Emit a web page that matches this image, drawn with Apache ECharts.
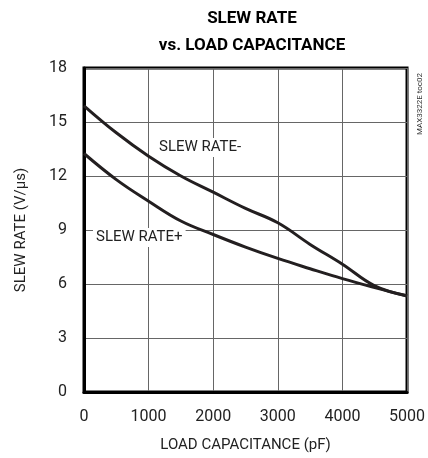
<!DOCTYPE html>
<html>
<head>
<meta charset="utf-8">
<script src="https://cdn.jsdelivr.net/npm/echarts@6/dist/echarts.min.js"></script>
<style>
  html, body { margin: 0; padding: 0; background: #fff; }
  #chart { width: 428px; height: 458px; }
</style>
</head>
<body>
<div id="chart"></div>
<script>
// load capacitance, pF
const loadCap = [0, 500, 1000, 1500, 2000, 2500, 3000, 3500, 4000, 4500, 5000]
// slew rate, V/us
const slewMinus = [15.9, 14.4, 13.1, 12.0, 11.1, 10.2, 9.4, 8.2, 7.1, 5.9, 5.35]
const slewPlus = [13.25, 11.8, 10.6, 9.5, 8.75, 8.05, 7.42, 6.85, 6.3, 5.8, 5.33]
const yTicks = [0, 3, 6, 9, 12, 15, 18]
const xTicks = [0, 1000, 2000, 3000, 4000, 5000]

const font = '"Roboto", "Liberation Sans", sans-serif'
const lineColor = '#231f20'

const chart = echarts.init(document.getElementById('chart'))

function pairs(ys) {
  return loadCap.map((x, i) => [x, ys[i]])
}

chart.setOption({
  backgroundColor: '#ffffff',
  animation: false,
  title: {
    text: 'SLEW RATE\nvs. LOAD CAPACITANCE',
    left: 247,
    textAlign: 'center',
    top: 0,
    textStyle: {
      fontFamily: font,
      fontWeight: 'bold',
      fontSize: 17,
      lineHeight: 27,
      color: '#000'
    }
  },
  grid: {
    left: 84,
    top: 68,
    width: 326,
    height: 325,
    show: true,
    borderColor: '#000',
    borderWidth: 3
  },
  xAxis: {
    type: 'value',
    min: xTicks[0],
    max: xTicks[xTicks.length - 1],
    interval: 1000,
    name: 'LOAD CAPACITANCE (pF)',
    nameLocation: 'middle',
    nameGap: 46,
    nameTextStyle: { fontFamily: font, fontSize: 15, color: '#222' },
    axisLine: { lineStyle: { color: '#000', width: 3 } },
    axisTick: { show: false },
    axisLabel: {
      fontFamily: font,
      fontSize: 16,
      color: '#222',
      margin: 17,
      formatter: v => String(v)
    },
    splitLine: { lineStyle: { color: '#666', width: 1 } }
  },
  yAxis: {
    type: 'value',
    min: yTicks[0],
    max: yTicks[yTicks.length - 1],
    interval: 3,
    name: 'SLEW RATE (V/\u00b5s)',
    nameLocation: 'middle',
    nameGap: 55,
    nameTextStyle: { fontFamily: font, fontSize: 15, color: '#222' },
    axisLine: { lineStyle: { color: '#000', width: 3 } },
    axisTick: { show: false },
    axisLabel: { fontFamily: font, fontSize: 16, color: '#222', margin: 17 },
    splitLine: { lineStyle: { color: '#666', width: 1 } }
  },
  graphic: [
    {
      type: 'text',
      left: 156,
      top: 138,
      z: 1,
      style: {
        text: 'SLEW RATE-',
        font: '15px ' + font,
        fill: '#222',
        backgroundColor: '#fff',
        padding: [2, 3]
      }
    },
    {
      type: 'text',
      left: 93,
      top: 228,
      z: 1,
      style: {
        text: 'SLEW RATE+',
        font: '15px ' + font,
        fill: '#222',
        backgroundColor: '#fff',
        padding: [2, 3]
      }
    },
    {
      type: 'text',
      x: 420,
      y: 104,
      rotation: Math.PI / 2,
      style: {
        text: 'MAX3322E toc02',
        font: '8px ' + font,
        fill: '#333',
        align: 'center',
        verticalAlign: 'middle'
      }
    }
  ],
  series: [
    {
      name: 'SLEW RATE-',
      type: 'line',
      smooth: 0.4,
      symbol: 'none',
      z: 5,
      lineStyle: { color: lineColor, width: 3 },
      data: pairs(slewMinus)
    },
    {
      name: 'SLEW RATE+',
      type: 'line',
      smooth: 0.4,
      symbol: 'none',
      z: 5,
      lineStyle: { color: lineColor, width: 3 },
      data: pairs(slewPlus)
    }
  ]
})
</script>
</body>
</html>
